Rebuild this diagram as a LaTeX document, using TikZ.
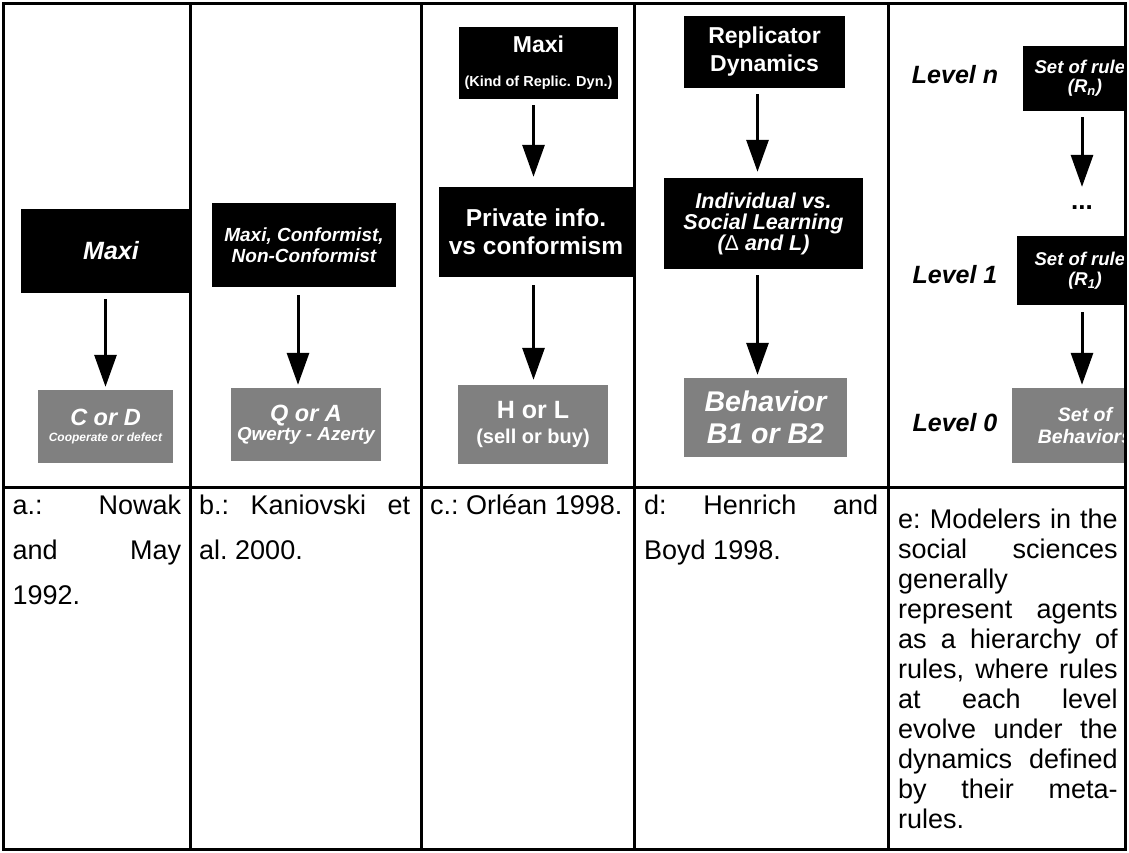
\documentclass[tikz,border=0pt]{standalone}
\usepackage{fontspec}
\setmainfont{Liberation Sans}
\usetikzlibrary{arrows.meta}
\definecolor{BoxGray}{rgb}{0.5, 0.5, 0.5}
\newcommand{\fsz}[2]{\fontsize{#1pt}{#2pt}\selectfont}
\newcommand{\refcell}[3]{\fsz{#1}{#2}\spaceskip=.278em plus 6em\relax\xspaceskip=\spaceskip\hyphenpenalty=10000\noindent\strut #3\par}
\tikzset{
  boxfont/.style 2 args={font=\bfseries\itshape\fsz{#1}{#2}},
  uprfont/.style 2 args={font=\bfseries\fsz{#1}{#2}}
}

\begin{document}
\begin{tikzpicture}[x=1pt,y=1pt,yscale=-1,xscale=1,
  blackbox/.style={fill=black,text=white,inner sep=0pt,align=center},
  graybox/.style={fill=BoxGray,text=white,inner sep=0pt,align=center},
  levellabel/.style={text=black,inner sep=0pt},
  flowarrow/.style={line width=3pt,-{Triangle[width=22pt,length=32pt]}},
  gridline/.style={line width=3pt},
  celltext/.style={anchor=north west,inner sep=0pt,align=justify}]
\useasboundingbox (0,0) rectangle (1129,852);

% axes of the arrows
\coordinate (axisA) at (105.5,0);
\coordinate (axisB) at (298,0);
\coordinate (axisC) at (533.5,0);
\coordinate (axisD) at (757.5,0);
\coordinate (axisE) at (1082,0);

%Column a
\begin{scope}
\clip (3,3) rectangle (190.7,487.3);
\draw (111,251) node (maxiA) [blackbox,minimum width=180,minimum height=84,boxfont={25}{25}] {Maxi};
\draw (105.5,426.5) node (cdA) [graybox,minimum width=135,minimum height=73,boxfont={23.5}{16}] {C or D\\{\fsz{12}{16}Cooperate or defect}};
\draw [flowarrow,shorten <=6pt,shorten >=3pt] (axisA |- maxiA.south) -- (axisA |- cdA.north);
\end{scope}

%Column b
\draw (304,245) node (maxiB) [blackbox,minimum width=184,minimum height=84,boxfont={19}{21}] {Maxi, Conformist,\\Non-Conformist};
\draw (306,424.5) node (qaB) [graybox,minimum width=150,minimum height=73,boxfont={23.5}{19}] {Q or A\\{\fsz{18.8}{19}Qwerty - Azerty}};
\draw [flowarrow,shorten <=8pt,shorten >=3pt] (axisB |- maxiB.south) -- (axisB |- qaB.north);

%Column c
\draw (538.5,63) node (maxiC) [blackbox,minimum width=159,minimum height=72,uprfont={23}{34}] {Maxi\\{\fsz{14.5}{34}(Kind of Replic. Dyn.)}};
\draw (536,232) node (privC) [blackbox,minimum width=194,minimum height=90,uprfont={24.5}{28}] {Private info.\\vs conformism};
\draw (533,424.5) node (hlC) [graybox,minimum width=150,minimum height=79,uprfont={25}{25}] {H or L\\{\fsz{20}{25}(sell or buy)}};
\draw [flowarrow,shorten <=6pt,shorten >=10pt] (axisC |- maxiC.south) -- (axisC |- privC.north);
\draw [flowarrow,shorten <=8pt,shorten >=5pt] (axisC |- privC.south) -- (axisC |- hlC.north);

%Column d
\draw (764.5,52) node (repD) [blackbox,minimum width=161,minimum height=72,uprfont={23}{28}] {Replicator\\Dynamics};
\draw (763.5,223.5) node (indD) [blackbox,minimum width=199,minimum height=91,boxfont={21.5}{21}] {Individual vs.\\Social Learning\\({\mdseries\upshape Δ} and L)};
\draw (765.5,417.5) node (behD) [graybox,minimum width=163,minimum height=79,boxfont={28.5}{32}] {Behavior\\B1 or B2};
\draw [flowarrow,shorten <=6pt,shorten >=6pt] (axisD |- repD.south) -- (axisD |- indD.north);
\draw [flowarrow,shorten <=6pt,shorten >=3pt] (axisD |- indD.south) -- (axisD |- behD.north);

%Column e
\begin{scope}
\clip (888.5,3) rectangle (1125.7,487.3);
\draw (955,75) node (lvN) [levellabel,boxfont={25}{25}] {Level n};
\draw (955,275) node (lvOne) [levellabel,boxfont={25}{25}] {Level 1};
\draw (955,423) node (lvZero) [levellabel,boxfont={25}{25}] {Level 0};
\draw (1085,78.5) node (rulesN) [blackbox,minimum width=124,minimum height=65,boxfont={18.5}{19}] {Set of rules\\(R\textsubscript{n})};
\draw (1082,208) node (dots) [levellabel,uprfont={26}{26}] {...};
\draw (1085,270.5) node (rulesOne) [blackbox,minimum width=136,minimum height=69,boxfont={18.5}{20}] {Set of rules\\(R\textsubscript{1})};
\draw (1085,425.5) node (behE) [graybox,minimum width=146,minimum height=75,boxfont={19.5}{22}] {Set of\\Behaviors};
\draw [flowarrow,shorten <=6pt,shorten >=19pt] (axisE |- rulesN.south) -- (dots);
\draw [flowarrow,shorten <=7pt,shorten >=3pt] (axisE |- rulesOne.south) -- (axisE |- behE.north);
\end{scope}

% Text Node
\draw (12.5,482.5) node (refA) [celltext,text width=168.5] {\refcell{27}{45}{a.: Nowak\linebreak and May\linebreak 1992.}};
% Text Node
\draw (199,482.5) node (refB) [celltext,text width=211] {\refcell{27}{45}{b.: Kaniovski et\linebreak al. 2000.}};
% Text Node
\draw (430,482.5) node (refC) [celltext,text width=195] {\refcell{27}{45}{c.: Orléan 1998.}};
% Text Node
\draw (644,482.5) node (refD) [celltext,text width=234] {\refcell{27}{45}{d: Henrich and\linebreak Boyd 1998.}};
% Text Node
\draw (898,507) node (refE) [celltext,text width=219.5] {\refcell{27}{30}{e: Modelers in the\linebreak social sciences\linebreak generally\linebreak represent agents\linebreak as a hierarchy of\linebreak rules, where rules\linebreak at each level\linebreak evolve under the\linebreak dynamics defined\linebreak by their meta-\linebreak rules.}};

%Table lines
\draw [gridline] (3,3) rectangle (1125.7,849.3);
\draw [gridline] (3,487.3) -- (1125.7,487.3);
\foreach \x in {190.7,421,634.3,888.5}
  \draw [gridline] (\x,3) -- (\x,849.3);

\end{tikzpicture}
\end{document}
